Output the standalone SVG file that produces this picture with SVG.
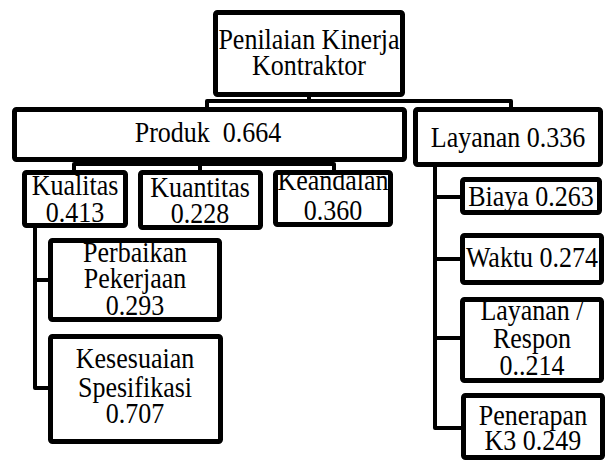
<svg xmlns="http://www.w3.org/2000/svg" width="606" height="463" viewBox="0 0 606 463">
<style>
.box{fill:#fff;stroke:#000;stroke-width:5;stroke-linejoin:round}
text{font-family:'Liberation Serif','Times New Roman','DejaVu Serif',serif;font-size:26px;fill:#000;text-anchor:middle}
.c{fill:none;stroke:#000;stroke-width:4;stroke-linejoin:round}
</style>
<rect width="606" height="463" fill="#fff"/>
<g id="connectors">
<path class="c" d="M309,96 V101 M207,108 V101 H511 V108"/>
<path class="c" d="M207,160 V164 M74,171 V164 H334 V171 M200,164 V171"/>
<path class="c" d="M35,226 V388 H50 M35,280 H50"/>
<path class="c" d="M435,166 V428 H462 M435,197 H462 M435,259 H462 M435,338 H462"/>
</g>
<g id="n-root"><rect class="box" x="215.5" y="12.5" width="187" height="82" rx="2"/>
<text x="309" y="49" transform="matrix(1 0 0 1.1 0 -4.9)">Penilaian Kinerja</text><text x="309" y="75" transform="matrix(1 0 0 1.1 0 -7.5)">Kontraktor</text></g>
<g id="n-produk"><rect class="box" x="14.5" y="109.5" width="390" height="50" rx="2"/>
<text x="208" y="142" xml:space="preserve" transform="matrix(1 0 0 1.1 0 -14.2)">Produk  0.664</text></g>
<g id="n-layanan"><rect class="box" x="415.5" y="109.5" width="185" height="55" rx="2"/>
<text x="508" y="147" transform="matrix(1 0 0 1.1 0 -14.7)">Layanan 0.336</text></g>
<g id="n-kualitas"><rect class="box" x="24.5" y="172.5" width="101" height="53" rx="2"/>
<text x="75" y="195" transform="matrix(1 0 0 1.1 0 -19.5)">Kualitas</text><text x="75" y="222" transform="matrix(1 0 0 1.1 0 -22.2)">0.413</text></g>
<g id="n-kuantitas"><rect class="box" x="140.5" y="172.5" width="120" height="55" rx="2"/>
<text x="200" y="197" transform="matrix(1 0 0 1.1 0 -19.7)">Kuantitas</text><text x="200" y="223" transform="matrix(1 0 0 1.1 0 -22.3)">0.228</text></g>
<g id="n-keandalan"><rect class="box" x="275.5" y="172.5" width="115" height="52" rx="2"/>
<text x="333" y="190" transform="matrix(1 0 0 1.1 0 -19)">Keandalan</text><text x="333" y="220" transform="matrix(1 0 0 1.1 0 -22)">0.360</text></g>
<g id="n-perbaikan"><rect class="box" x="50.5" y="240.5" width="169" height="79" rx="2"/>
<text x="135" y="262" transform="matrix(1 0 0 1.1 0 -26.2)">Perbaikan</text><text x="135" y="288" transform="matrix(1 0 0 1.1 0 -28.8)">Pekerjaan</text><text x="135" y="315" transform="matrix(1 0 0 1.1 0 -31.5)">0.293</text></g>
<g id="n-kesesuaian"><rect class="box" x="50.5" y="336.5" width="170" height="105" rx="2"/>
<text x="135" y="368" transform="matrix(1 0 0 1.1 0 -36.8)">Kesesuaian</text><text x="135" y="397" transform="matrix(1 0 0 1.1 0 -39.7)">Spesifikasi</text><text x="135" y="423" transform="matrix(1 0 0 1.1 0 -42.3)">0.707</text></g>
<g id="n-biaya"><rect class="box" x="462.5" y="179.5" width="137" height="33" rx="2"/>
<text x="531" y="206" transform="matrix(1 0 0 1.1 0 -20.6)">Biaya 0.263</text></g>
<g id="n-waktu"><rect class="box" x="462.5" y="235.5" width="139" height="47" rx="2"/>
<text x="532" y="267" transform="matrix(1 0 0 1.1 0 -26.7)">Waktu 0.274</text></g>
<g id="n-respon"><rect class="box" x="462.5" y="299.5" width="139" height="81" rx="2"/>
<text x="532" y="320" transform="matrix(1 0 0 1.1 0 -32)">Layanan /</text><text x="532" y="348" transform="matrix(1 0 0 1.1 0 -34.8)">Respon</text><text x="532" y="375" transform="matrix(1 0 0 1.1 0 -37.5)">0..214</text></g>
<g id="n-k3"><rect class="box" x="463.5" y="395.5" width="139" height="62" rx="2"/>
<text x="533" y="425" transform="matrix(1 0 0 1.1 0 -42.5)">Penerapan</text><text x="533" y="450" transform="matrix(1 0 0 1.1 0 -45)">K3 0.249</text></g>
</svg>
